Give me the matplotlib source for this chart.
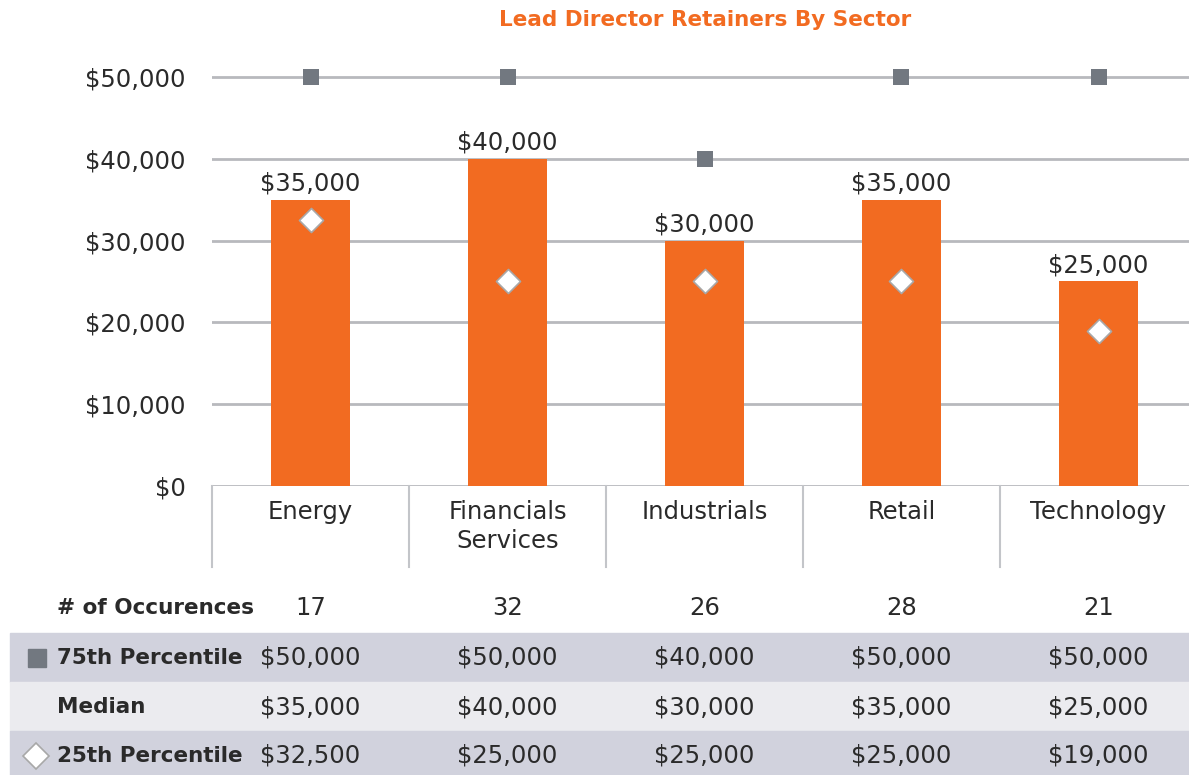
import matplotlib; matplotlib.use("Agg")
import matplotlib.pyplot as plt
from matplotlib.patches import Rectangle
from matplotlib.transforms import blended_transform_factory

sectors = ["Energy", "Financials\nServices", "Industrials", "Retail", "Technology"]
occurrences = [17, 32, 26, 28, 21]
p75 = [50000, 50000, 40000, 50000, 50000]
median = [35000, 40000, 30000, 35000, 25000]
p25 = [32500, 25000, 25000, 25000, 19000]

ORANGE = "#f26b21"
GRID = "#b8b9bd"
SQ = "#727880"
TXT = "#2a2a2a"
FS = 17.5
plt.rcParams["font.family"] = ["DejaVu Sans"]

W, H = 1189, 775
fig = plt.figure(figsize=(W / 100, H / 100), dpi=100)
# axes: x 212..1197 px, y 486 (=$0) .. 60.6 (=$52k)
ax = fig.add_axes([212 / W, (H - 486) / H, (1197 - 212) / W, (486 - 60.6) / H])
ax.set_xlim(-0.5, 4.5); ax.set_ylim(0, 52000)
for s in ax.spines.values(): s.set_visible(False)
ax.set_yticks(range(0, 50001, 10000))
ax.set_yticklabels([f"${v:,}" for v in range(0, 50001, 10000)], fontsize=FS, color=TXT)
ax.tick_params(axis="y", length=0, pad=19)
ax.set_xticks([])
for v in range(0, 50001, 10000):
    ax.axhline(v, color=GRID, lw=2, zorder=0)

xs = list(range(len(sectors)))
ax.bar(xs, median, width=0.40, color=ORANGE, zorder=2)
for x, m in zip(xs, median):
    ax.annotate(f"${m:,}", (x, m), textcoords="offset points", xytext=(0, 3),
                ha="center", va="bottom", fontsize=FS, color=TXT)
ax.scatter(xs, p75, marker="s", s=140, color=SQ, zorder=3, linewidths=0)
ax.scatter(xs, p25, marker="D", s=150, facecolor="white", edgecolor="#a8a8a8",
           linewidths=1.2, zorder=3)

# category cells below axis
tr = blended_transform_factory(ax.transData, fig.transFigure)
for i in range(len(sectors) + 1):
    fig.add_artist(plt.Line2D([i - 0.5, i - 0.5], [(H - 567) / H, (H - 486) / H],
                              transform=tr, color="#c3c5c9", lw=1.5))
for x, s in zip(xs, sectors):
    fig.text(x, (H - 500) / H, s, transform=tr, ha="center", va="top",
             fontsize=FS, color=TXT, linespacing=1.25)

# table bands
for y0, y1, c in ((633, 682, "#d1d2dd"), (682, 731, "#ebebef"), (731, 775, "#d1d2dd")):
    fig.add_artist(Rectangle((10 / W, (H - y1) / H), 1, (y1 - y0) / H,
                             transform=fig.transFigure, color=c, zorder=0))

rows = [("# of Occurences", [str(v) for v in occurrences], 608),
        ("75th Percentile", [f"${v:,}" for v in p75], 658),
        ("Median", [f"${v:,}" for v in median], 707),
        ("25th Percentile", [f"${v:,}" for v in p25], 756)]
for lab, vals, yp in rows:
    fig.text(57 / W, (H - yp) / H, lab, ha="left", va="center", fontsize=15.5,
             fontweight="bold", color=TXT)
    for x, v in zip(xs, vals):
        fig.text(x, (H - yp) / H, v, transform=tr, ha="center", va="center",
                 fontsize=FS, color=TXT)
fig.add_artist(plt.Line2D([37 / W], [(H - 658) / H], marker="s", ms=13, color=SQ,
                          transform=fig.transFigure, lw=0))
fig.add_artist(plt.Line2D([36 / W], [(H - 756) / H], marker="D", ms=13, mfc="white",
                          mec="#a8a8a8", mew=1.2, transform=fig.transFigure, lw=0))

fig.text(705 / W, (H - 20) / H, "Lead Director Retainers By Sector", ha="center",
         va="center", fontsize=15.5, fontweight="bold", color=ORANGE)

fig.savefig("out.png", dpi=100)
